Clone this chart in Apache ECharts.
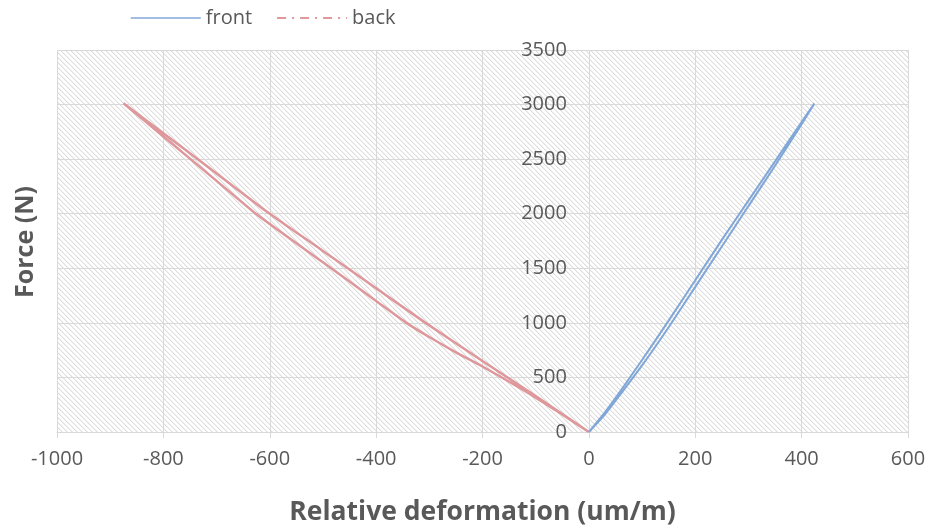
<!DOCTYPE html>
<html>
<head>
<meta charset="utf-8">
<script src="https://cdn.jsdelivr.net/npm/echarts@6/dist/echarts.min.js"></script>
<style>html,body{margin:0;padding:0;background:#fff}#c{width:928px;height:528px}</style>
</head>
<body>
<div id="c"></div>
<script>
// Front gauge: loading and unloading paths [deformation um/m, force N]
const frontLoad = [[0,0],[30,180],[60,380],[100,660],[150,1020],[200,1390],[250,1760],[300,2120],[350,2480],[400,2840],[424,3010]];
const frontUnload = [[424,3010],[400,2820],[350,2440],[300,2070],[250,1700],[200,1330],[150,960],[100,610],[60,350],[30,160],[0,0]];
// Back gauge
const backLoad = [[0,0],[-50,165],[-100,330],[-150,490],[-200,651],[-307,1000],[-400,1317],[-500,1659],[-600,2000],[-700,2369],[-800,2737],[-875,3012]];
const backUnload = [[-875,3012],[-800,2708],[-700,2301],[-626,2000],[-500,1555],[-400,1201],[-343,1000],[-300,870],[-250,730],[-200,600],[-150,460],[-100,315],[-50,160],[0,0]];
const seriesNames = ['front','back'];
const xRange = [-1000, 600, 200];
const yRange = [0, 3500, 500];

// hatch pattern
const P = 5, PS = 10;
const pc = document.createElement('canvas'); pc.width = PS; pc.height = PS;
const pctx = pc.getContext('2d');
pctx.fillStyle = '#ffffff'; pctx.fillRect(0,0,PS,PS);
for (let y = 0; y < PS; y++) for (let x = 0; x < PS; x++) {
  const d = (((x - y) % P) + P) % P;
  if (d === 0) { pctx.fillStyle = '#dddddd'; pctx.fillRect(x,y,1,1); }
  else if (d === 1) { pctx.fillStyle = '#f1f1f1'; pctx.fillRect(x,y,1,1); }
}

const FONT = '"Open Sans", "Liberation Sans", sans-serif';
const TXT = '#595959';
const GL = 57, GR = 20, GT = 50, GB = 96;
const plotW = 928 - GL - GR;
const zeroOffset = -plotW * (0 - xRange[0]) / (xRange[1] - xRange[0]);
const chart = echarts.init(document.getElementById('c'), null, {renderer:'canvas'});
chart.setOption({
  animation: false,
  backgroundColor: '#ffffff',
  textStyle: {fontFamily: FONT},
  legend: {
    left: 125, top: 3, itemWidth: 70, itemHeight: 14, itemGap: 24,
    textStyle: {color: TXT, fontSize: 20, fontFamily: FONT},
    data: [
      {name: seriesNames[0], itemStyle: {opacity: 0}, lineStyle: {width: 1.5}},
      {name: seriesNames[1], itemStyle: {opacity: 0}, lineStyle: {width: 2, type: [9,6,2,6]}}
    ]
  },
  grid: {left: GL, right: GR, top: GT, bottom: GB, show: true, borderWidth: 0, outerBoundsMode: 'none', containLabel: false,
    backgroundColor: {image: pc, repeat: 'repeat'}},
  xAxis: {
    type: 'value', min: xRange[0], max: xRange[1], interval: xRange[2],
    name: 'Relative deformation (um/m)', nameLocation: 'middle', nameGap: 67,
    nameTextStyle: {color: TXT, fontSize: 26.5, fontWeight: 'bold', fontFamily: FONT},
    axisLine: {show: true, onZero: false, lineStyle: {color: '#d9d9d9'}},
    axisTick: {show: true, length: 6, lineStyle: {color: '#d9d9d9'}},
    axisLabel: {color: TXT, fontSize: 20, margin: 17, fontFamily: FONT, formatter: v => String(v)},
    splitLine: {show: true, lineStyle: {color: '#d9d9d9', width: 1}}
  },
  yAxis: {
    type: 'value', min: yRange[0], max: yRange[1], interval: yRange[2],
    position: 'left', offset: zeroOffset,
    axisLine: {show: false, onZero: false},
    axisTick: {show: false},
    axisLabel: {color: TXT, fontSize: 20, margin: 22, fontFamily: FONT, formatter: v => String(v)},
    splitLine: {show: true, lineStyle: {color: '#d9d9d9', width: 1}}
  },
  graphic: [{type: 'text', x: 26, y: 242, rotation: Math.PI/2,
    style: {text: 'Force (N)', fill: TXT, font: 'bold 25px ' + FONT, textAlign: 'center', textVerticalAlign: 'middle'}}],
  series: [
    {name: seriesNames[1], type: 'line', symbol: 'none', showSymbol: false, smooth: 0.2,
     data: backLoad.concat(backUnload), lineStyle: {color: '#db8d91', width: 2.5, opacity: 0.9}, itemStyle: {color: '#db8d91'}},
    {name: seriesNames[0], type: 'line', symbol: 'none', showSymbol: false, smooth: 0.2,
     data: frontLoad.concat(frontUnload), lineStyle: {color: '#7aa2d6', width: 2, opacity: 0.95}, itemStyle: {color: '#7aa2d6'}}
  ]
});
</script>
</body>
</html>
